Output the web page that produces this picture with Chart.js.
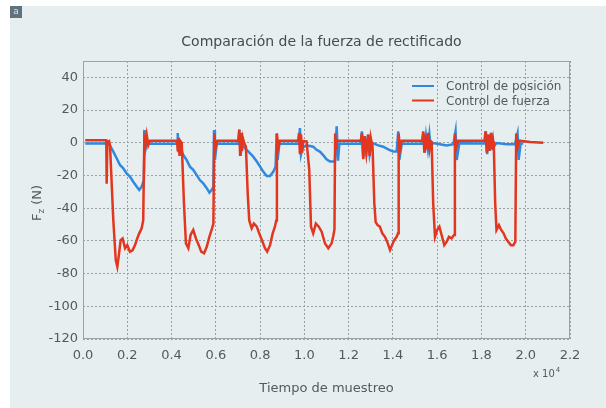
<!DOCTYPE html>
<html><head><meta charset="utf-8">
<script src="https://cdn.jsdelivr.net/npm/chart.js@4/dist/chart.umd.min.js"></script>
<style>
html,body{margin:0;padding:0;background:#fff;}
canvas{display:block;}
</style></head><body>
<canvas id="c" width="606" height="408"></canvas>
<script>
// ---------- data ----------
const TITLE = 'Comparación de la fuerza de rectificado';
const X_TITLE = 'Tiempo de muestreo';
const Y_TITLE_MAIN = 'F';
const Y_TITLE_SUB = 'z';
const Y_TITLE_UNIT = ' (N)';
const X_EXP_TEXT = 'x 10';
const X_EXP_POW = '4';
const BADGE = 'a';
const SERIES_NAMES = ['Control de posición', 'Control de fuerza'];
const X_TICKS = [0, 2000, 4000, 6000, 8000, 10000, 12000, 14000, 16000, 18000, 20000, 22000];
const Y_TICKS = [-120, -100, -80, -60, -40, -20, 0, 20, 40];

// Control de posición (blue) — sample index, force (N)
const posT = [100,1100,1144,1370,1520,1670,1820,1970,2120,2270,2430,2540,2650,2750,2790,2830,2900,2970,
  4250,4280,4300,4330,4380,4530,4680,4830,4980,5130,5280,5430,5590,5710,5810,5890,5920,5960,6040,
  7020,7060,7120,7170,7240,7390,7540,7690,7850,8000,8140,8300,8450,8600,8700,8750,8790,8870,
  9750,9800,9850,9920,10100,10400,10550,10700,10850,11000,11160,11380,11460,11520,11580,
  12550,12600,12660,12720,12800,12880,12950,13050,13340,13560,13790,14010,14170,14240,14290,14400,
  15330,15380,15440,15500,15580,15650,15700,15820,16120,16430,16730,16830,16880,17000,
  18150,18200,18260,18320,18380,18450,18520,18680,19140,19510,19630,19680,19770,19890];
const posF = [-0.5,-0.5,0,-5.4,-9.5,-13.6,-15.6,-18.7,-20.7,-23.8,-26.9,-28.9,-26.9,-22.8,7.8,-3.4,1.6,-0.6,
  -0.5,6,-5,3,-2.4,-7.5,-10.5,-14.6,-16.6,-19.6,-22.8,-24.8,-27.8,-30.5,-28.9,-26.9,7.8,-10.5,-0.6,
  -0.5,8,-8,-2,-2.4,-4.3,-6.4,-8.5,-11.5,-14.6,-17.6,-20.3,-20.3,-17.6,-14.6,5.7,-10.5,-0.6,
  -0.5,9,-7,-3,-1.6,-2.4,-4.3,-5.4,-7.5,-10.1,-11.5,-11.5,10,-11,-0.6,
  -0.5,7,-9,4,-6,5,-7,0,-1.6,-2.4,-4,-5.4,-5.4,7,-10.5,-0.6,
  -0.5,6,-6,4,-4,5,-2,-0.2,-0.9,-1.6,-0.9,7,-10.5,-0.3,
  -0.5,7,-7,5,-5,6,-3,-0.2,-0.9,-0.9,5.7,-10.5,-0.5,-0.5];

// Control de fuerza (red) — sample index, force (N)
const forceT = [100,1050,1070,1100,1180,1220,1370,1480,1550,1630,1700,1790,1900,2000,2120,2240,2350,2450,2540,2650,2720,2770,2830,2880,2950,3030,
  4250,4280,4320,4360,4400,4460,4560,4650,4760,4860,4980,5100,5230,5340,5470,5590,5710,5830,5890,5930,5990,6070,
  7020,7060,7100,7140,7180,7220,7280,7360,7440,7510,7620,7720,7850,7960,8080,8220,8320,8450,8570,8670,8730,8760,8820,8900,
  9720,9760,9800,9850,9900,9950,10100,10220,10300,10400,10520,10650,10780,10930,11080,11230,11300,11360,11390,11430,11480,
  12550,12600,12660,12720,12800,12880,12950,13000,13080,13160,13220,13310,13410,13520,13640,13740,13870,13960,14060,14170,14230,14260,14320,14400,
  15320,15370,15420,15480,15550,15600,15660,15700,15750,15820,15900,16000,16100,16200,16320,16430,16530,16650,16760,16800,16850,16950,
  18140,18180,18240,18300,18360,18430,18490,18530,18560,18620,18680,18790,18890,19000,19100,19210,19330,19440,19530,19570,19620,19710,20200,20790];
const forceF = [1.5,1.5,-25,0.5,1,-1.6,-47.5,-71.7,-75.8,-67.6,-59.5,-58.5,-64.5,-62.6,-66.6,-65.8,-62.6,-58.5,-55.4,-52.3,-47.5,2.7,-0.6,4.7,-1.5,1.3,
  1.3,-5,3,-8,1,0,-37,-61.5,-64.5,-56.4,-53.3,-58.5,-62.6,-66.6,-67.6,-63.6,-57.5,-52.3,-49.4,5.7,-3.4,1.3,
  1.3,8,-8,6,-5,3,0,-2.4,-30.9,-47.5,-52.3,-49.4,-51.3,-55.4,-59.5,-64.5,-66.6,-62.6,-55.4,-51.3,-47.5,5.7,-3.4,1.3,
  1.3,6,-7,5,-6,1,0.8,-16.6,-51.3,-55.4,-49.4,-51.3,-54.4,-61.5,-64.5,-61.5,-57.5,-53,5.7,-4,1.3,
  1.3,6,-10,4,-6,5,-8,3,-2.4,-37,-48.5,-50.4,-51.3,-55.4,-57.5,-60.5,-65.6,-62.6,-59.5,-57.5,-55.4,5.7,-4.3,1.3,
  1.3,7,-6,5,-4,6,-3,1,0.5,-37,-57.5,-53.3,-51.3,-56.4,-62.6,-60.5,-57.5,-58.5,-56.4,5.7,-3.4,1.3,
  1.3,7,-6,5,-5,6,-4,1,-2.4,-37,-53.3,-50.4,-53.3,-55.4,-58.5,-60.5,-62.6,-62.6,-60.5,5.7,-3.4,1.3,0.5,0];

// ---------- style ----------
const FONT = '"DejaVu Sans", "Liberation Sans", Arial, sans-serif';
const TEXT = '#55595b';
const BLUE = '#3089dc';
const RED = '#e2361f';
const GRID = '#98a1a5';
const BOX = '#9aa2a6';
const PANEL = '#e6eef0';

const decor = {
  id: 'decor',
  beforeDraw(chart) {
    const c = chart.ctx, a = chart.chartArea;
    c.save();
    c.fillStyle = '#ffffff'; c.fillRect(0, 0, chart.width, chart.height);
    c.fillStyle = PANEL; c.fillRect(10, 6, chart.width - 10, chart.height - 6);
    c.fillStyle = '#5e737d'; c.fillRect(10, 6, 12, 12);
    c.fillStyle = '#dde5e9'; c.font = '9px ' + FONT; c.textAlign = 'center'; c.textBaseline = 'middle';
    c.fillText(BADGE, 16, 12);
    // chart title
    c.fillStyle = '#474b4d'; c.font = '14px ' + FONT;
    c.fillText(TITLE, (a.left + a.right) / 2 - 5, 42);
    c.restore();
  },
  beforeDatasetsDraw(chart) {
    const c = chart.ctx, a = chart.chartArea;
    c.save();
    c.strokeStyle = BOX; c.lineWidth = 1;
    const l = Math.round(a.left) + 0.5, t = Math.round(a.top) + 0.5;
    const r = Math.round(a.right) - 0.5, b = Math.round(a.bottom) - 0.5;
    c.strokeRect(l, t, r - l, b - t);
    c.restore();
  },
  afterDraw(chart) {
    const c = chart.ctx, a = chart.chartArea;
    c.save();
    // legend (inside plot, top right)
    c.font = '12px ' + FONT; c.textBaseline = 'middle'; c.textAlign = 'left';
    chart.data.datasets.forEach((ds, i) => {
      const y = 86 + i * 14.5;
      c.strokeStyle = ds.borderColor; c.lineWidth = 2;
      c.beginPath(); c.moveTo(412, y); c.lineTo(434, y); c.stroke();
      c.fillStyle = TEXT; c.fillText(ds.label, 446, y + 1);
    });
    // exponent label
    c.font = '10px ' + FONT; c.fillStyle = TEXT; c.textBaseline = 'middle';
    c.fillText(X_EXP_TEXT, 533, 374);
    const w = c.measureText(X_EXP_TEXT).width;
    c.font = '7px ' + FONT; c.fillText(X_EXP_POW, 533 + w + 1, 370);
    // y axis title with subscript
    c.translate(38, (a.top + a.bottom) / 2 + 3);
    c.rotate(-Math.PI / 2);
    c.font = '13px ' + FONT; const wF = c.measureText(Y_TITLE_MAIN).width;
    const wU = c.measureText(Y_TITLE_UNIT).width;
    c.font = '9px ' + FONT; const wZ = c.measureText(Y_TITLE_SUB).width;
    let x0 = -(wF + wZ + wU) / 2;
    c.textAlign = 'left'; c.textBaseline = 'middle';
    c.font = '13px ' + FONT; c.fillText(Y_TITLE_MAIN, x0, 0);
    c.font = '9px ' + FONT; c.fillText(Y_TITLE_SUB, x0 + wF, 4);
    c.font = '13px ' + FONT; c.fillText(Y_TITLE_UNIT, x0 + wF + wZ, 0);
    c.restore();
  }
};

const toXY = (ts, vs) => ts.map((t, i) => ({ x: t, y: vs[i] }));

new Chart(document.getElementById('c'), {
  type: 'line',
  data: {
    datasets: [
      { label: SERIES_NAMES[0], data: toXY(posT, posF), borderColor: BLUE, backgroundColor: BLUE,
        borderWidth: 2.5, pointRadius: 0, tension: 0, order: 1 },
      { label: SERIES_NAMES[1], data: toXY(forceT, forceF), borderColor: RED, backgroundColor: RED,
        borderWidth: 2.5, pointRadius: 0, tension: 0, order: 0 }
    ]
  },
  options: {
    responsive: false, animation: false, devicePixelRatio: 1,
    layout: { padding: { left: 0, right: 36, top: 61, bottom: 0 } },
    plugins: {
      legend: { display: false },
      tooltip: { enabled: false },
      title: { display: false }
    },
    scales: {
      x: {
        type: 'linear', min: 0, max: 22000,
        afterBuildTicks: s => { s.ticks = X_TICKS.map(v => ({ value: v })); },
        afterFit: s => { s.height = 69; },
        ticks: { autoSkip: false, maxRotation: 0, padding: 9.2, color: TEXT,
          font: { family: FONT, size: 13, lineHeight: 1.2 },
          callback: v => (v / 10000).toFixed(1) },
        grid: { color: GRID, lineWidth: 1, drawTicks: false },
        border: { display: false, dash: [2, 2] },
        title: { display: true, text: X_TITLE, color: TEXT,
          font: { family: FONT, size: 13, lineHeight: 1.2 }, padding: { top: 0, bottom: 11.2 } }
      },
      y: {
        type: 'linear', min: -120, max: 50,
        afterBuildTicks: s => { s.ticks = Y_TICKS.map(v => ({ value: v })); },
        afterFit: s => { s.width = 83; },
        ticks: { padding: 5, color: TEXT, font: { family: FONT, size: 13, lineHeight: 1.2 },
          callback: v => String(v) },
        grid: { color: GRID, lineWidth: 1, drawTicks: false },
        border: { display: false, dash: [2, 2] }
      }
    }
  },
  plugins: [decor]
});
</script>
</body></html>
